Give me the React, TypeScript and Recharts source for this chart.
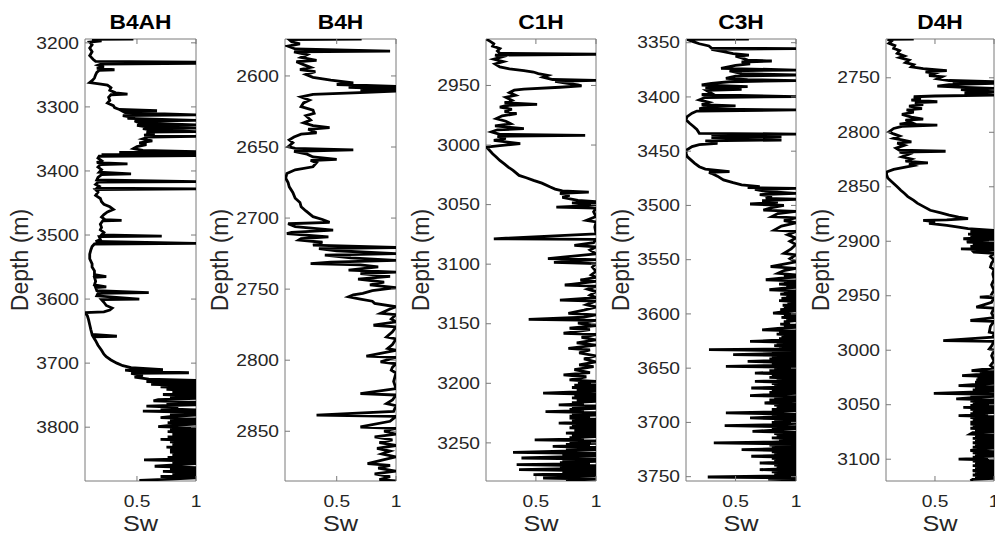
import React from 'react';
import { ScatterChart, Scatter, XAxis, YAxis, ReferenceLine } from 'recharts';

// well names, one panel each
const wells = ['B4AH', 'B4H', 'C1H', 'C3H', 'D4H'];

const b4ah: [number, number][] = [
  [3194, 0.47], [3194.5, 0.12], [3197, 0.2], [3199, 0.1], [3203, 0.12], [3208, 0.1], [3214, 0.12], [3220, 0.1],
  [3226, 0.13], [3229, 0.15], [3230, 1], [3231, 0.3], [3232, 1], [3233, 0.2], [3235, 0.17], [3238, 0.22],
  [3240, 0.16], [3242, 0.31], [3243, 0.18], [3246, 0.16], [3250, 0.15], [3255, 0.14], [3259, 0.12], [3262, 0.1],
  [3264, 0.18], [3266, 0.25], [3270, 0.28], [3274, 0.27], [3278, 0.32], [3280, 0.42], [3281, 0.28], [3285, 0.26],
  [3290, 0.27], [3294, 0.25], [3298, 0.3], [3301, 0.31], [3304, 0.35], [3306, 0.67], [3307, 0.38], [3309, 0.4],
  [3312.5, 1], [3313.5, 0.38], [3316, 0.45], [3318, 0.42], [3321, 1], [3322, 0.48], [3325, 0.52], [3328, 1],
  [3329, 0.5], [3331, 0.58], [3333, 1], [3334, 0.55], [3336, 0.62], [3338.5, 1], [3339.5, 0.58], [3342, 0.65],
  [3344, 0.56], [3346, 1], [3347, 0.6], [3350, 0.55], [3353, 0.63], [3356, 0.52], [3359, 0.58], [3362, 0.5],
  [3365, 0.47], [3368, 0.55], [3370, 1], [3371, 0.35], [3373.4, 1], [3374.5, 0.2], [3376, 1], [3377, 0.18],
  [3380, 0.17], [3384, 0.2], [3387, 0.16], [3389, 0.42], [3390, 0.19], [3394, 0.17], [3398, 0.2], [3402, 0.18],
  [3404.7, 0.45], [3405.7, 0.2], [3410, 0.17], [3414, 0.16], [3416.7, 1], [3417.5, 0.17], [3421, 0.15], [3424, 0.18],
  [3427, 0.16], [3428, 1], [3429, 0.15], [3433, 0.17], [3438, 0.15], [3443, 0.19], [3448, 0.2], [3452, 0.22],
  [3456, 0.27], [3460, 0.3], [3464, 0.25], [3468, 0.22], [3472, 0.2], [3476, 0.23], [3477, 0.37], [3478, 0.21],
  [3483, 0.19], [3488, 0.2], [3492, 0.19], [3496, 0.22], [3500, 0.2], [3501.6, 0.71], [3502.5, 0.18], [3507, 0.19],
  [3510, 0.15], [3513, 1], [3514, 0.14], [3518, 0.12], [3523, 0.11], [3530, 0.1], [3537, 0.1], [3545, 0.12],
  [3550, 0.12], [3556, 0.14], [3562, 0.14], [3565, 0.24], [3566, 0.14], [3572, 0.15], [3578, 0.14], [3581, 0.24],
  [3582, 0.15], [3587, 0.16], [3590, 0.6], [3591, 0.17], [3595, 0.16], [3600, 0.52], [3601, 0.2], [3605, 0.22],
  [3610, 0.24], [3614, 0.29], [3617, 0.27], [3620, 0.22], [3621, 0.06], [3626, 0.08], [3632, 0.09], [3640, 0.1],
  [3648, 0.11], [3655, 0.12], [3658, 0.33], [3659, 0.13], [3665, 0.15], [3672, 0.17], [3680, 0.2], [3686, 0.22],
  [3690, 0.24], [3695, 0.28], [3700, 0.33], [3704, 0.38], [3707, 0.45], [3710, 0.72], [3711, 0.4], [3713, 0.5],
  [3715, 0.94], [3716, 0.45], [3719, 0.55], [3722, 0.48], [3725, 0.6], [3727, 1], [3729, 0.58], [3731, 1],
  [3733, 0.62], [3735, 1], [3737, 0.7], [3739, 1], [3741, 0.75], [3743, 1], [3745, 0.8], [3747, 1],
  [3749, 0.72], [3751, 1], [3753, 0.78], [3755, 1], [3757, 0.68], [3759, 0.64], [3761, 1], [3763, 0.75],
  [3765, 1], [3767, 0.58], [3769, 0.85], [3771, 0.7], [3773, 1], [3775, 0.55], [3777, 1], [3779, 0.78],
  [3781, 1], [3783, 0.8], [3785, 0.7], [3787, 1], [3789, 0.78], [3791, 1], [3793, 0.76], [3795, 1],
  [3797, 0.8], [3799, 0.68], [3801, 1], [3803, 0.78], [3805, 1], [3807, 0.76], [3809, 1], [3811, 0.8],
  [3813, 1], [3815, 0.76], [3817, 1], [3819, 0.7], [3821, 1], [3823, 0.78], [3825, 1], [3827, 0.8],
  [3829, 1], [3831, 0.75], [3833, 1], [3835, 0.78], [3837, 1], [3839, 0.78], [3841, 1], [3843, 0.8],
  [3845, 1], [3847, 0.76], [3849, 1], [3851, 0.56], [3853, 1], [3855, 0.8], [3857, 1], [3859, 0.82],
  [3861, 0.65], [3863, 1], [3865, 0.78], [3867, 1], [3869, 0.72], [3871, 1], [3873, 0.8], [3875, 1],
  [3877, 0.7], [3879, 1], [3881, 0.78], [3883, 0.52],
];

const b4h: [number, number][] = [
  [2574, 0.71], [2574.5, 0.1], [2576, 0.12], [2577.5, 0.19], [2579, 0.09], [2581, 0.15], [2582.5, 0.95], [2583, 0.14],
  [2585, 0.25], [2587, 0.2], [2589, 0.33], [2590, 0.16], [2592, 0.22], [2594, 0.28], [2595.5, 0.19], [2597, 0.32],
  [2599, 0.24], [2601, 0.3], [2603, 0.45], [2604.8, 0.64], [2606, 0.5], [2607.4, 1], [2608, 0.6], [2609, 1],
  [2609.8, 0.7], [2610.7, 1], [2611.5, 0.75], [2613, 0.3], [2614.8, 0.2], [2617, 0.27], [2619, 0.22], [2621.6, 0.2],
  [2624, 0.3], [2626.3, 0.31], [2628, 0.24], [2631, 0.28], [2633, 0.22], [2635, 0.3], [2636.4, 0.44], [2637.5, 0.26],
  [2640, 0.33], [2641, 0.2], [2643, 0.14], [2645, 0.1], [2647, 0.13], [2649.8, 0.09], [2651, 0.15], [2652, 0.64],
  [2653, 0.14], [2655, 0.25], [2657, 0.3], [2658.7, 0.5], [2659.5, 0.28], [2661, 0.33], [2663.9, 0.3], [2666, 0.15],
  [2668.6, 0.08], [2672, 0.07], [2675, 0.09], [2678, 0.1], [2682, 0.13], [2686, 0.15], [2689, 0.19], [2692, 0.2],
  [2695, 0.24], [2699, 0.3], [2701, 0.38], [2703, 0.44], [2704, 0.09], [2706, 0.15], [2708.5, 0.47], [2710, 0.12],
  [2711, 0.08], [2713.2, 0.43], [2714.5, 0.2], [2715.5, 0.18], [2717, 0.38], [2719, 0.3], [2720.7, 1], [2721.5, 0.35],
  [2723, 0.5], [2725, 1], [2726, 0.4], [2728, 0.62], [2729.7, 1], [2731, 0.45], [2732, 0.28], [2733, 0.7],
  [2734.4, 0.85], [2736.6, 0.6], [2738, 1], [2739, 0.7], [2741, 0.95], [2743, 0.68], [2745, 0.9], [2747, 0.78],
  [2749, 1], [2751, 0.8], [2753, 0.72], [2754, 0.64], [2755.4, 0.6], [2757, 0.7], [2758.5, 0.8], [2760, 0.82],
  [2762.4, 1], [2764, 0.95], [2767, 0.87], [2768, 1], [2771, 0.96], [2773, 1], [2775.4, 0.81], [2776.5, 1],
  [2780, 0.97], [2783.6, 0.92], [2785, 1], [2789, 0.97], [2791.8, 0.93], [2793, 1], [2797.2, 0.75], [2798, 1],
  [2801.2, 0.87], [2802.5, 1], [2805, 0.97], [2807, 0.96], [2809, 1], [2815, 0.98], [2820, 1], [2823.5, 0.7],
  [2824.5, 1], [2828, 0.97], [2830.5, 0.92], [2832, 1], [2836, 0.98], [2838.7, 0.33], [2839.5, 1], [2843, 0.95],
  [2847, 0.7], [2848, 1], [2850, 0.9], [2852, 1], [2854, 0.82], [2856, 0.97], [2858, 0.86], [2860, 1],
  [2862, 0.84], [2864, 0.95], [2866, 0.88], [2868, 1], [2870, 0.9], [2872.8, 0.76], [2874, 0.95], [2876, 0.85],
  [2878, 1], [2880, 0.82], [2882, 0.95], [2884, 0.86], [2885, 1],
];

const c1h: [number, number][] = [
  [2911.2, 0.09], [2913, 0.12], [2915, 0.15], [2917, 0.14], [2919, 0.2], [2921, 0.18], [2923, 0.2], [2923.8, 1],
  [2924.5, 0.16], [2926, 0.22], [2928, 0.15], [2930, 0.23], [2932, 0.16], [2934.5, 0.2], [2936, 0.28], [2937.5, 0.4],
  [2938.7, 0.48], [2940, 0.52], [2941.5, 0.6], [2943, 0.56], [2945, 0.64], [2945.7, 1], [2946.5, 0.66], [2948, 0.75],
  [2949.5, 0.85], [2950.3, 0.88], [2951.5, 0.7], [2953, 0.4], [2954, 0.32], [2956, 0.28], [2958.3, 0.33], [2960, 0.25],
  [2962.5, 0.3], [2964.5, 0.24], [2965.9, 0.51], [2966.8, 0.26], [2968.1, 0.2], [2970, 0.3], [2972, 0.24], [2973.7, 0.34],
  [2975.5, 0.22], [2977.9, 0.17], [2980, 0.25], [2982.1, 0.29], [2984, 0.16], [2986.3, 0.4], [2987.2, 0.18], [2989, 0.13],
  [2991, 0.2], [2991.9, 0.91], [2992.7, 0.18], [2994.5, 0.25], [2996, 0.15], [2998.9, 0.37], [3000.5, 0.2], [3001.7, 0.09],
  [3004, 0.11], [3007.3, 0.14], [3010, 0.17], [3012.9, 0.2], [3016, 0.24], [3018.5, 0.27], [3021.3, 0.31], [3023, 0.33],
  [3025.5, 0.36], [3027.5, 0.42], [3029.7, 0.48], [3032, 0.55], [3035.3, 0.62], [3037, 0.66], [3038.5, 0.72], [3039.5, 0.94],
  [3040.5, 0.7], [3042.3, 0.78], [3044, 0.72], [3046.5, 0.85], [3047.5, 1], [3048.5, 0.8], [3049.9, 1], [3051, 0.9],
  [3052.1, 0.67], [3053, 1], [3056, 0.98], [3060, 1], [3063.3, 0.92], [3064.5, 1], [3068.9, 0.99], [3074.5, 1],
  [3078.7, 0.15], [3079.2, 1], [3082, 0.98], [3084.3, 0.82], [3085.5, 1], [3088, 0.95], [3091.3, 1], [3095.4, 0.6],
  [3096.2, 1], [3098.5, 0.65], [3099.6, 1], [3102.4, 0.97], [3106, 1], [3109, 0.96], [3111, 1], [3113.3, 0.87],
  [3114.5, 1], [3117.5, 0.74], [3118.5, 1], [3121, 0.93], [3123, 1], [3126, 0.95], [3128, 1], [3130.1, 0.7],
  [3131, 1], [3134, 0.92], [3136, 1], [3138.5, 0.9], [3141.3, 0.77], [3142.5, 1], [3144.5, 0.9], [3146.3, 0.44],
  [3147.2, 1], [3149.5, 0.85], [3151.5, 1], [3153.8, 0.78], [3155, 0.95], [3158, 0.73], [3159, 1], [3161.5, 0.88],
  [3163.5, 1], [3166, 0.84], [3168, 1], [3170.6, 0.77], [3172, 0.95], [3174.5, 0.86], [3177, 1], [3179.5, 0.9],
  [3182, 1], [3184.5, 0.86], [3186, 0.98], [3188.5, 0.82], [3191, 0.95], [3192.9, 0.73], [3194.5, 0.92], [3197.1, 0.78],
  [3198.5, 1], [3199.5, 0.85], [3200.5, 1], [3201.5, 0.82], [3202.5, 1], [3203.5, 0.8], [3204.5, 1], [3205.5, 0.84],
  [3206.5, 1], [3207.5, 0.78], [3208.3, 0.56], [3209.2, 1], [3210.2, 0.82], [3211.2, 1], [3212.2, 0.8], [3213.2, 1],
  [3214.2, 0.84], [3215.2, 1], [3216.2, 0.8], [3217.2, 0.9], [3218.1, 0.69], [3219, 1], [3220, 0.8], [3221, 1],
  [3222, 0.78], [3222.9, 0.9], [3223.7, 0.58], [3224.6, 1], [3225.6, 0.8], [3226.6, 1], [3227.6, 0.78], [3228.4, 0.95],
  [3229.2, 0.78], [3230.1, 1], [3231.1, 0.8], [3232.1, 1], [3233.4, 0.69], [3234.3, 1], [3235.3, 0.8], [3236.3, 1],
  [3237.3, 0.78], [3238.3, 1], [3239.3, 0.82], [3240.3, 1], [3241.8, 0.75], [3242.7, 1], [3243.7, 0.8], [3244.7, 1],
  [3245.7, 0.78], [3246.6, 0.9], [3247.4, 0.49], [3248.3, 1], [3249.3, 0.78], [3250.3, 1], [3251.3, 0.75], [3252.2, 0.95],
  [3253, 0.64], [3253.9, 1], [3254.9, 0.75], [3255.9, 1], [3257, 0.72], [3258, 0.31], [3258.9, 1], [3259.9, 0.72],
  [3260.9, 1], [3261.8, 0.7], [3262.7, 0.38], [3263.6, 1], [3264.6, 0.72], [3265.6, 1], [3266.6, 0.7], [3267.5, 0.95],
  [3268.3, 0.34], [3269.2, 1], [3270.2, 0.7], [3271.2, 1], [3272.5, 0.36], [3273.4, 1], [3274.4, 0.72], [3275.4, 1],
  [3276.7, 0.48], [3277.6, 1], [3278.6, 0.72], [3279.5, 0.56], [3280.4, 1], [3281.5, 0.75],
];

const c3h: [number, number][] = [
  [3346.6, 0.61], [3347, 0.1], [3349, 0.15], [3351, 0.2], [3353, 0.28], [3355, 0.3], [3355.5, 1], [3356.2, 0.3],
  [3358.3, 0.4], [3360, 0.48], [3361.4, 0.61], [3362.5, 0.5], [3364, 0.55], [3366, 0.6], [3366.9, 0.8], [3367.8, 0.55],
  [3369.5, 0.62], [3371, 0.5], [3372.1, 0.45], [3373.6, 0.38], [3375.2, 1], [3376, 0.45], [3376.7, 0.48], [3378.5, 0.55],
  [3379.8, 1], [3380.8, 0.5], [3382.9, 0.42], [3384, 0.6], [3385, 1], [3386, 0.45], [3387.4, 0.3], [3389, 0.22],
  [3390.5, 0.6], [3391.3, 0.25], [3393, 0.55], [3394, 0.26], [3396.6, 0.3], [3398, 0.22], [3399.7, 1], [3400.5, 0.25],
  [3402.8, 0.2], [3405, 0.28], [3407, 0.22], [3408.3, 0.5], [3409.3, 0.25], [3411, 0.2], [3412, 1], [3413, 0.18],
  [3415, 0.14], [3418.1, 0.1], [3421, 0.09], [3424.3, 0.12], [3427, 0.15], [3430, 0.18], [3433.5, 0.2], [3434.2, 1],
  [3435, 0.3], [3436.6, 0.88], [3437.5, 0.3], [3439.7, 0.88], [3440.5, 0.25], [3441.2, 0.3], [3442.7, 0.35], [3444, 0.2],
  [3445.8, 0.14], [3448.9, 0.095], [3452, 0.09], [3455, 0.1], [3458, 0.13], [3461, 0.16], [3464.3, 0.2], [3466.5, 0.25],
  [3468.9, 0.45], [3469.6, 0.28], [3470.4, 0.3], [3473, 0.35], [3476.5, 0.4], [3479, 0.48], [3481, 0.55], [3482.7, 0.7],
  [3483.5, 0.6], [3484.3, 1], [3485.3, 0.66], [3487, 0.75], [3488.9, 1], [3490, 0.7], [3491.5, 0.8], [3493.5, 0.75],
  [3494.3, 1], [3495.5, 0.72], [3497, 0.85], [3498.7, 0.62], [3500, 0.9], [3502, 0.8], [3504.3, 0.73], [3505.5, 1],
  [3507.5, 0.85], [3510.4, 0.8], [3511.5, 1], [3514, 0.9], [3516, 1], [3519, 0.88], [3522.7, 0.82], [3524, 1],
  [3527, 0.93], [3530, 1], [3533, 0.95], [3536, 1], [3540, 0.96], [3544.2, 0.9], [3545.5, 1], [3549, 0.95],
  [3552, 1], [3556.5, 0.79], [3558, 1], [3560, 0.9], [3562.6, 0.85], [3564, 1], [3565, 0.9], [3566, 1],
  [3567, 0.88], [3568.5, 0.75], [3569.5, 1], [3570.5, 0.9], [3571.5, 1], [3572.5, 0.86], [3573.5, 1], [3574.5, 0.92],
  [3575.5, 1], [3576.5, 0.88], [3577.7, 0.78], [3578.7, 1], [3579.7, 0.9], [3580.7, 1], [3581.7, 0.87], [3582.7, 1],
  [3583.7, 0.92], [3584.7, 1], [3585.7, 0.88], [3586.7, 1], [3587.7, 0.86], [3588.7, 1], [3590, 0.93], [3591, 1],
  [3592, 0.89], [3593, 1], [3594, 0.9], [3595, 1], [3596, 0.87], [3597, 1], [3598, 0.9], [3599.2, 0.81],
  [3600.2, 1], [3601.2, 0.9], [3602.2, 1], [3603.2, 0.88], [3604.2, 1], [3605.2, 0.92], [3606.2, 1], [3607.2, 0.9],
  [3608.4, 0.95], [3609.4, 0.87], [3610.4, 1], [3611.4, 0.9], [3612.4, 1], [3613.4, 0.85], [3614.7, 0.72], [3615.7, 1],
  [3616.7, 0.86], [3617.7, 1], [3618.7, 0.84], [3619.7, 1], [3620.7, 0.88], [3621.7, 1], [3622.7, 0.86], [3623.7, 1],
  [3624.5, 0.8], [3625.3, 0.62], [3626.3, 1], [3627.3, 0.84], [3628.3, 1], [3629.3, 0.82], [3630.3, 1], [3631.3, 0.86],
  [3632.2, 1], [3633, 0.28], [3633.8, 1], [3634.8, 0.8], [3635.8, 1], [3636.7, 0.78], [3637.6, 0.48], [3638.5, 1],
  [3639.5, 0.8], [3640.5, 1], [3641.5, 0.78], [3642.5, 1], [3643.8, 0.6], [3644.8, 1], [3645.8, 0.8], [3646.8, 1],
  [3647.6, 0.8], [3648.3, 0.42], [3649.2, 1], [3650.2, 0.82], [3651.2, 1], [3652.2, 0.78], [3653.2, 1], [3654.5, 0.66],
  [3655.5, 1], [3656.5, 0.8], [3657.5, 1], [3658.5, 0.78], [3659.5, 1], [3660.5, 0.84], [3661.4, 1], [3662.2, 0.66],
  [3663.2, 1], [3664.2, 0.8], [3665.2, 1], [3666.2, 0.82], [3667.2, 1], [3668.3, 0.63], [3669.3, 1], [3670.3, 0.8],
  [3671.3, 1], [3672.3, 0.78], [3673.3, 1], [3674.3, 0.8], [3675.3, 0.62], [3676.3, 1], [3677.3, 0.82], [3678.3, 1],
  [3679.3, 0.78], [3680.3, 1], [3681.2, 0.84], [3682.1, 0.74], [3683.1, 1], [3684.1, 0.82], [3685.1, 1], [3686.1, 0.84],
  [3687.1, 1], [3688.1, 0.8], [3689.1, 1], [3690.2, 0.82], [3691.3, 0.42], [3692.3, 1], [3693.3, 0.8], [3694.3, 1],
  [3695.9, 0.62], [3696.9, 1], [3697.9, 0.82], [3698.9, 1], [3699.9, 0.8], [3700.9, 1], [3702, 0.82], [3703, 0.41],
  [3704, 1], [3705, 0.8], [3706, 1], [3707.1, 0.82], [3708.2, 0.64], [3709.2, 1], [3710.2, 0.82], [3711.2, 1],
  [3712.2, 0.84], [3713.2, 1], [3714.2, 0.8], [3715.2, 1], [3716.2, 0.86], [3717.2, 1], [3718.1, 0.8], [3718.9, 0.32],
  [3719.8, 1], [3720.8, 0.78], [3721.8, 1], [3722.8, 0.8], [3723.8, 1], [3725.1, 0.55], [3726.1, 1], [3727.1, 0.8],
  [3728.1, 1], [3729.1, 0.82], [3730.1, 1], [3731.2, 0.63], [3732.2, 1], [3733.2, 0.8], [3734.2, 1], [3735.2, 0.82],
  [3736.2, 1], [3737.4, 0.7], [3738.4, 1], [3739.4, 0.82], [3740.4, 1], [3741.4, 0.84], [3742.4, 1], [3743.5, 0.7],
  [3744.5, 1], [3745.5, 0.8], [3746.5, 1], [3747.5, 0.82], [3748.5, 1], [3749.4, 0.85], [3750.3, 0.27], [3751.2, 1],
  [3752.2, 0.77], [3753.2, 1], [3754, 0.9],
];

const d4h: [number, number][] = [
  [2714.4, 0.32], [2714.8, 0.1], [2716.5, 0.13], [2718.4, 0.11], [2720.5, 0.16], [2723, 0.15], [2725, 0.2], [2727.6, 0.18],
  [2730, 0.24], [2731.5, 0.2], [2733.7, 0.28], [2736, 0.25], [2738, 0.32], [2739.9, 0.3], [2741.5, 0.4], [2743.5, 0.6],
  [2744.5, 0.42], [2746, 0.5], [2748, 0.45], [2749, 0.56], [2751, 0.52], [2752.5, 0.62], [2753.6, 1], [2754.3, 0.65],
  [2755.2, 1], [2756.3, 0.62], [2757.6, 0.52], [2758.6, 0.7], [2759.8, 1], [2760.8, 0.72], [2762, 0.85], [2762.8, 1],
  [2763.8, 0.75], [2765, 0.9], [2765.9, 1], [2766.7, 0.5], [2767.4, 0.32], [2769, 0.38], [2770.5, 0.3], [2772, 0.52],
  [2772.8, 0.33], [2774.5, 0.4], [2776, 0.28], [2778.2, 0.39], [2779.5, 0.26], [2781.5, 0.32], [2783.5, 0.22], [2786, 0.3],
  [2788, 0.4], [2788.8, 0.25], [2791, 0.3], [2792.5, 0.2], [2793.5, 0.52], [2794.5, 0.22], [2796.5, 0.15], [2799.6, 0.11],
  [2801.5, 0.15], [2803.5, 0.2], [2805.5, 0.15], [2807, 0.22], [2808.8, 0.3], [2810, 0.18], [2812, 0.24], [2814.5, 0.17],
  [2816.5, 0.2], [2817.4, 0.59], [2818.2, 0.2], [2820, 0.28], [2822.6, 0.22], [2824.5, 0.3], [2826.5, 0.25], [2828.1, 0.44],
  [2829, 0.28], [2830.5, 0.32], [2831.8, 0.26], [2834, 0.15], [2836.4, 0.09], [2839, 0.09], [2842, 0.1], [2844, 0.12],
  [2847, 0.15], [2850, 0.18], [2853.2, 0.21], [2856, 0.24], [2859, 0.27], [2862.4, 0.32], [2865, 0.35], [2868, 0.4],
  [2871.6, 0.46], [2874, 0.55], [2876, 0.62], [2877.8, 0.7], [2879.3, 0.78], [2880.3, 0.6], [2880.8, 0.4], [2882, 0.5],
  [2883.5, 0.45], [2885.4, 0.6], [2887, 0.7], [2888.5, 0.78], [2890, 1], [2891, 0.8], [2892.5, 1], [2893.5, 0.78],
  [2894.5, 1], [2895.5, 0.8], [2896.5, 1], [2897.7, 0.74], [2898.7, 1], [2899.7, 0.8], [2900.8, 0.77], [2901.8, 1],
  [2902.8, 0.82], [2903.8, 1], [2904.8, 0.8], [2905.8, 1], [2906.9, 0.72], [2907.9, 1], [2908.9, 0.82], [2910, 0.83],
  [2911, 1], [2914, 0.97], [2917, 1], [2920, 0.98], [2923.8, 0.97], [2926, 1], [2930, 0.99], [2935, 1],
  [2940, 0.98], [2945, 1], [2950.5, 0.97], [2951.3, 0.88], [2952, 1], [2956, 0.98], [2960.5, 0.85], [2961.3, 1],
  [2966, 0.98], [2970, 1], [2972.7, 0.8], [2973.5, 1], [2978, 0.97], [2983.5, 0.96], [2984.3, 1], [2988, 0.99],
  [2991.1, 0.57], [2991.8, 1], [2996, 0.98], [2998.8, 0.96], [3000, 1], [3005, 0.98], [3010, 1], [3014, 0.97],
  [3016.5, 1], [3017.6, 0.9], [3018.7, 0.81], [3019.6, 1], [3020.6, 0.88], [3021.6, 1], [3022.5, 0.85], [3023.3, 0.73],
  [3024.3, 1], [3025.3, 0.86], [3026.3, 1], [3027.3, 0.85], [3028.3, 1], [3029.3, 0.84], [3030.3, 1], [3031.4, 0.85],
  [3032.5, 0.7], [3033.4, 1], [3034.4, 0.84], [3035.4, 1], [3036.4, 0.82], [3037.4, 1], [3038.5, 0.8], [3039.5, 0.49],
  [3040.4, 1], [3041.4, 0.8], [3042.4, 1], [3043.4, 0.82], [3044.7, 0.68], [3045.6, 1], [3046.6, 0.8], [3047.6, 1],
  [3048.6, 0.82], [3049.6, 1], [3050.6, 0.8], [3051.5, 1], [3052.4, 0.74], [3053.3, 1], [3054.3, 0.8], [3055.3, 1],
  [3056.3, 0.82], [3057.3, 1], [3058.3, 0.8], [3059.2, 0.95], [3060, 0.7], [3060.9, 1], [3061.9, 0.8], [3062.9, 1],
  [3063.9, 0.82], [3064.9, 1], [3065.9, 0.8], [3066.8, 1], [3067.7, 0.8], [3068.6, 1], [3069.6, 0.82], [3070.6, 1],
  [3071.6, 0.8], [3072.6, 1], [3073.6, 0.84], [3074.6, 1], [3075.7, 0.82], [3076.9, 0.8], [3077.8, 1], [3078.8, 0.84],
  [3079.8, 1], [3080.8, 0.82], [3081.8, 1], [3083, 0.84], [3083.9, 1], [3084.9, 0.82], [3085.9, 1], [3086.9, 0.84],
  [3087.9, 1], [3088.9, 0.82], [3089.9, 1], [3091, 0.84], [3092.2, 0.8], [3093.1, 1], [3094.1, 0.82], [3095.1, 1],
  [3096.1, 0.84], [3097.1, 1], [3098.1, 0.82], [3099, 0.95], [3099.9, 0.7], [3100.8, 1], [3101.8, 0.82], [3102.8, 1],
  [3103.8, 0.84], [3104.8, 1], [3105.8, 0.82], [3106.8, 1], [3107.8, 0.84], [3108.8, 1], [3109.7, 0.85], [3110.6, 0.82],
  [3111.5, 1], [3112.5, 0.84], [3113.5, 1], [3114.5, 0.82], [3115.5, 1], [3116.5, 0.84], [3117.5, 1], [3118.6, 0.82],
  [3119.8, 0.8],
];

const logs = [b4ah, b4h, c1h, c3h, d4h];

// axis limits and tick labels
const depthLimits: [number, number][] = [[3194, 3884], [2574, 2885], [2911, 3282], [3346.6, 3754], [2714.4, 3120]];
const swMin = [0.06, 0.064, 0.085, 0.09, 0.085];
const depthTicks = [
  [3200, 3300, 3400, 3500, 3600, 3700, 3800],
  [2600, 2650, 2700, 2750, 2800, 2850],
  [2950, 3000, 3050, 3100, 3150, 3200, 3250],
  [3350, 3400, 3450, 3500, 3550, 3600, 3650, 3700, 3750],
  [2750, 2800, 2850, 2900, 2950, 3000, 3050, 3100],
];
const swTicks = [0.5, 1];

// layout (page pixels)
const plotLeft = [85, 285, 486, 686, 886];
const plotRight = [196, 396, 596, 796, 994];
const TOP = 39;
const BOTTOM = 481;
const AXIS_W = 80;
const PAD_R = 15;
const XAXIS_H = 30;
const FONT = '"Liberation Sans", Arial, Helvetica, sans-serif';
const BOX = '#7a7a7a';
const INK = '#262626';

function Panel({ i }: { i: number }) {
  const w = plotRight[i] - plotLeft[i];
  const h = BOTTOM - TOP;
  const width = AXIS_W + w + PAD_R;
  const pts = logs[i].map(([depth, sw]) => ({ depth, sw }));
  const cx = AXIS_W + w / 2;

  const yTick = (p: any) => {
    const { x, y, payload } = p;
    return (
      <g>
        <line x1={x} x2={x + 5} y1={y} y2={y} stroke={BOX} />
        <line x1={x + w - 5} x2={x + w} y1={y} y2={y} stroke={BOX} />
        <text
          transform={`translate(${x - 6},${y + 5.7}) scale(1.2,1)`}
          textAnchor="end"
          fontSize={16}
          fontFamily={FONT}
          fill={INK}
        >
          {payload.value}
        </text>
      </g>
    );
  };

  const xTick = (p: any) => {
    const { x, y, payload } = p;
    return (
      <g>
        <line x1={x} x2={x} y1={y} y2={y - 5} stroke={BOX} />
        <line x1={x} x2={x} y1={y - h} y2={y - h + 5} stroke={BOX} />
        <text
          transform={`translate(${x},${y + 25.7}) scale(1.2,1)`}
          textAnchor="middle"
          fontSize={16}
          fontFamily={FONT}
          fill={INK}
        >
          {payload.value}
        </text>
      </g>
    );
  };

  const xLabel = () => (
    <g>
      <text
        transform={`translate(${cx},531) scale(1.15,1)`}
        textAnchor="middle"
        fontSize={22}
        fontFamily={FONT}
        fill={INK}
      >
        Sw
      </text>
      <text
        transform={`translate(${cx},29) scale(1.17,1)`}
        textAnchor="middle"
        fontSize={19.5}
        fontWeight="bold"
        fontFamily={FONT}
        fill="#000"
      >
        {wells[i]}
      </text>
    </g>
  );

  const yLabel = () => (
    <text
      transform={`translate(${AXIS_W - 57.5},${TOP + h / 2}) rotate(-90)`}
      textAnchor="middle"
      fontSize={23}
      fontFamily={FONT}
      fill={INK}
    >
      Depth (m)
    </text>
  );

  return (
    <div style={{ position: 'absolute', left: plotLeft[i] - AXIS_W, top: 0 }}>
      <ScatterChart
        width={width}
        height={544}
        margin={{ top: TOP, right: PAD_R, bottom: 544 - BOTTOM - XAXIS_H, left: 0 }}
      >
        <XAxis
          type="number"
          dataKey="sw"
          domain={[swMin[i], 1]}
          ticks={swTicks}
          interval={0}
          allowDataOverflow
          height={XAXIS_H}
          tickSize={0}
          tickMargin={0}
          tickLine={false}
          axisLine={{ stroke: BOX }}
          tick={xTick}
          label={xLabel}
        />
        <YAxis
          type="number"
          dataKey="depth"
          domain={depthLimits[i]}
          reversed
          ticks={depthTicks[i]}
          interval={0}
          allowDataOverflow
          width={AXIS_W}
          tickSize={0}
          tickMargin={0}
          tickLine={false}
          axisLine={{ stroke: BOX }}
          tick={yTick}
          label={yLabel}
        />
        <ReferenceLine y={depthLimits[i][0]} stroke={BOX} />
        <ReferenceLine x={1} stroke={BOX} />
        <Scatter
          data={pts}
          fill="#000"
          strokeWidth={2.8}
          line={{ stroke: '#000', strokeWidth: 2.8 }}
          lineType="joint"
          shape={() => <g />}
          isAnimationActive={false}
        />
      </ScatterChart>
    </div>
  );
}

export default function App() {
  return (
    <div
      style={{
        position: 'absolute',
        left: 0,
        top: 0,
        width: 995,
        height: 544,
        overflow: 'hidden',
        background: '#fff',
      }}
    >
      {wells.map((name, i) => (
        <Panel key={name} i={i} />
      ))}
    </div>
  );
}
